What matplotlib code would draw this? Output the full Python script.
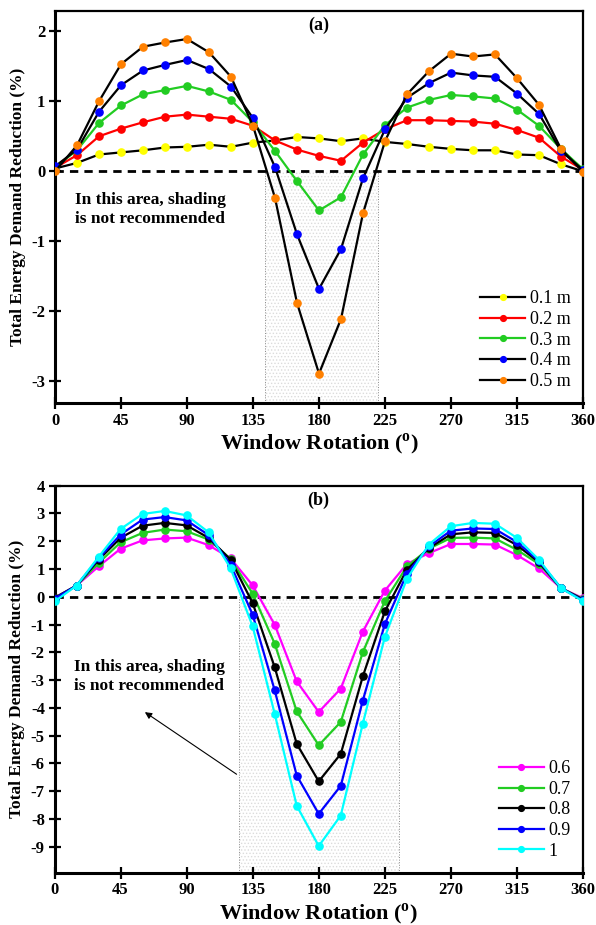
import matplotlib
matplotlib.use("Agg")
import matplotlib.pyplot as plt
from matplotlib.patches import Rectangle

plt.rcParams['font.family'] = ['Liberation Serif', 'DejaVu Serif']
plt.rcParams['mathtext.fontset'] = 'custom'
plt.rcParams['mathtext.rm'] = 'Liberation Serif:bold'
plt.rcParams['mathtext.bf'] = 'Liberation Serif:bold'
plt.rcParams['hatch.linewidth'] = 0.6

# ---------------- data ----------------
angles = [0, 15, 30, 45, 60, 75, 90, 105, 120, 135, 150, 165, 180,
          195, 210, 225, 240, 255, 270, 285, 300, 315, 330, 345, 360]

a_labels = ['0.1 m', '0.2 m', '0.3 m', '0.4 m', '0.5 m']
a_01 = [0.04, 0.12, 0.24, 0.27, 0.30, 0.34, 0.35, 0.38, 0.35, 0.41, 0.44, 0.49, 0.47,
        0.43, 0.47, 0.42, 0.39, 0.35, 0.32, 0.30, 0.30, 0.24, 0.23, 0.10, 0.00]
a_02 = [0.05, 0.23, 0.50, 0.61, 0.70, 0.78, 0.81, 0.78, 0.75, 0.65, 0.44, 0.31, 0.22,
        0.15, 0.41, 0.60, 0.73, 0.73, 0.72, 0.71, 0.68, 0.59, 0.48, 0.21, 0.02]
a_03 = [0.06, 0.30, 0.69, 0.94, 1.10, 1.16, 1.22, 1.14, 1.02, 0.70, 0.29, -0.14, -0.56,
        -0.37, 0.24, 0.66, 0.91, 1.02, 1.09, 1.07, 1.04, 0.88, 0.65, 0.32, 0.03]
a_04 = [0.07, 0.31, 0.85, 1.23, 1.44, 1.52, 1.59, 1.46, 1.21, 0.76, 0.06, -0.90, -1.68,
        -1.11, -0.10, 0.60, 1.05, 1.26, 1.41, 1.37, 1.35, 1.11, 0.82, 0.29, 0.02]
a_05 = [0.00, 0.37, 1.00, 1.53, 1.78, 1.84, 1.89, 1.70, 1.35, 0.65, -0.38, -1.88, -2.89,
        -2.11, -0.60, 0.43, 1.10, 1.43, 1.68, 1.64, 1.67, 1.33, 0.95, 0.32, -0.01]

b_labels = ['0.6', '0.7', '0.8', '0.9', '1']
b_06 = [-0.03, 0.40, 1.09, 1.73, 2.03, 2.10, 2.13, 1.86, 1.38, 0.41, -1.01, -3.05, -4.15,
        -3.31, -1.26, 0.22, 1.18, 1.57, 1.90, 1.90, 1.88, 1.50, 1.02, 0.31, -0.05]
b_07 = [-0.04, 0.40, 1.21, 1.96, 2.30, 2.42, 2.36, 2.06, 1.36, 0.11, -1.69, -4.13, -5.35,
        -4.51, -2.00, -0.16, 1.09, 1.73, 2.12, 2.13, 2.10, 1.69, 1.18, 0.31, -0.08]
b_08 = [-0.05, 0.40, 1.33, 2.12, 2.56, 2.66, 2.57, 2.12, 1.33, -0.23, -2.54, -5.30, -6.65,
        -5.66, -2.87, -0.53, 0.97, 1.75, 2.25, 2.32, 2.30, 1.86, 1.24, 0.31, -0.10]
b_09 = [-0.07, 0.40, 1.38, 2.24, 2.78, 2.87, 2.75, 2.22, 1.15, -0.65, -3.37, -6.44, -7.82,
        -6.81, -3.74, -0.99, 0.83, 1.81, 2.38, 2.46, 2.44, 1.97, 1.29, 0.31, -0.13]
b_10 = [-0.17, 0.40, 1.43, 2.44, 2.98, 3.09, 2.93, 2.32, 1.02, -1.07, -4.22, -7.53, -8.98,
        -7.88, -4.57, -1.45, 0.64, 1.88, 2.54, 2.66, 2.63, 2.12, 1.33, 0.31, -0.16]

x_ticks = [0, 45, 90, 135, 180, 225, 270, 315, 360]
a_yticks = [-3, -2, -1, 0, 1, 2]
b_yticks = [-9, -8, -7, -6, -5, -4, -3, -2, -1, 0, 1, 2, 3, 4]

a_shade = (143, 220)
b_shade = (125.6, 234.7)

# ---------------- styles ----------------
a_series = [a_01, a_02, a_03, a_04, a_05]
a_line_colors = ['black', '#ff0000', '#22cc22', 'black', 'black']
a_marker_colors = ['#ffff00', '#ff0000', '#22cc22', '#0000ff', '#ff8000']

b_series = [b_06, b_07, b_08, b_09, b_10]
b_colors = ['#ff00ff', '#22cc22', 'black', '#0000ff', '#00ffff']

W, H = 596, 925
fig = plt.figure(figsize=(W / 100, H / 100), dpi=100)

def px_axes(left, top, right, bottom):
    return fig.add_axes([left / W, 1 - bottom / H, (right - left) / W, (bottom - top) / H])

ax_a = px_axes(55, 11, 583, 403)
ax_b = px_axes(54.5, 485.7, 583, 872.7)

def style_axes(ax, ylim, yticks, shade, tag):
    ax.set_xlim(0, 360)
    ax.set_ylim(*ylim)
    ax.set_xticks(x_ticks)
    ax.set_yticks(yticks)
    ax.set_xticklabels([str(t) for t in x_ticks], fontweight='bold', fontsize=12)
    ax.set_yticklabels([str(t) for t in yticks], fontweight='bold', fontsize=12)
    ax.tick_params(direction='inout', length=8, width=1.6, pad=3)
    for s in ['left', 'bottom']:
        ax.spines[s].set_linewidth(2.2)
    for s in ['top', 'right']:
        ax.spines[s].set_linewidth(1.6)
    ax.axhline(0, color='black', lw=2.0, ls=(0, (3, 2.2)), zorder=2)
    # shaded (not recommended) area
    ax.add_patch(Rectangle((shade[0], ylim[0]), shade[1] - shade[0], -ylim[0],
                           facecolor='white', edgecolor='#dcdcdc', hatch='.....',
                           lw=0, zorder=1))
    for xv in shade:
        ax.plot([xv, xv], [ylim[0], 0], color='#888888', lw=0.7, ls=':', zorder=1.5)
    ax.text(0.5, 0.985, tag, transform=ax.transAxes, ha='center', va='top',
            fontweight='bold', fontsize=13)
    ax.set_xlabel('Window Rotation ($^{\\mathrm{o}}$)', fontweight='bold', fontsize=16,
                  labelpad=2)
    ax.set_ylabel('Total Energy Demand Reduction (%)', fontweight='bold', fontsize=12.5,
                  labelpad=4)

style_axes(ax_a, (-3.31, 2.29), a_yticks, a_shade, '(a)')
style_axes(ax_b, (-9.94, 4.0), b_yticks, b_shade, '(b)')

for ys, lc, mc, lab in zip(a_series, a_line_colors, a_marker_colors, a_labels):
    ax_a.plot(angles, ys, color=lc, lw=1.6, marker='o', ms=5.2, mfc=mc, mec=mc,
              label=lab, zorder=3)

for ys, c, lab in zip(b_series, b_colors, b_labels):
    ax_b.plot(angles, ys, color=c, lw=1.6, marker='o', ms=5.2, mfc=c, mec=c,
              label=lab, zorder=3)

leg_kw = dict(frameon=False, fontsize=13, handlelength=2.5, handletextpad=0.25,
              labelspacing=0.2, borderaxespad=0.0, loc='lower right', markerscale=0.8)
ax_a.legend(bbox_to_anchor=(0.99, 0.015), **leg_kw)
ax_b.legend(bbox_to_anchor=(0.99, 0.015), **leg_kw)

ax_a.text(13.6, -0.3, 'In this area, shading\nis not recommended', ha='left', va='top',
          fontweight='bold', fontsize=12.5, linespacing=1.25)
ax_b.text(13.6, -2.25, 'In this area, shading\nis not recommended', ha='left', va='top',
          fontweight='bold', fontsize=12.5, linespacing=1.25)
ax_b.annotate('', xy=(60, -4.1), xytext=(125.6, -6.45),
              arrowprops=dict(arrowstyle='-|>', color='black', lw=0.8,
                              mutation_scale=10), zorder=4)

fig.savefig('out.png', dpi=100)
